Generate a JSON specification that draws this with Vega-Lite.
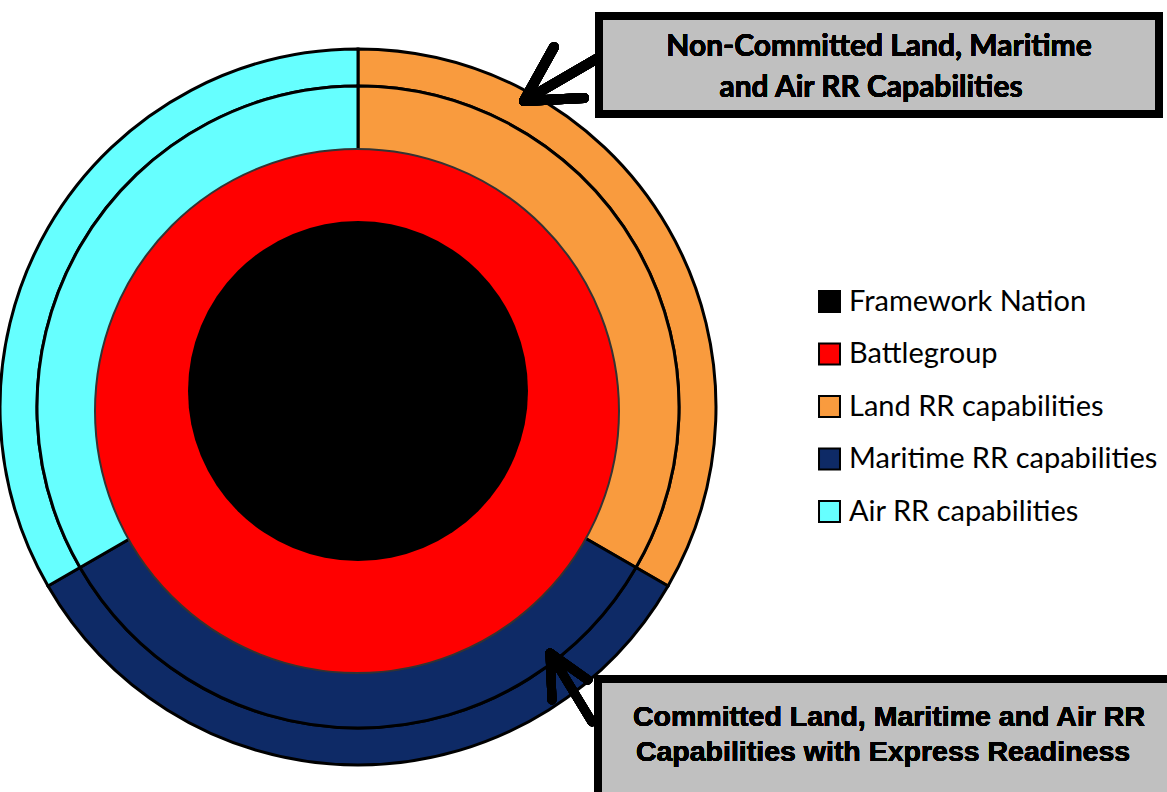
{
  "$schema": "https://vega.github.io/schema/vega-lite/v6.json",
  "width": 1167,
  "height": 792,
  "padding": 0,
  "autosize": "none",
  "background": "white",
  "config": {"view": {"stroke": null}, "axis": {"disable": true}},
  "data": {
    "values": [
      {"ring": "core", "category": "Framework Nation", "value": 1, "seq": 1},
      {"ring": "battlegroup", "category": "Battlegroup", "value": 1, "seq": 1},
      {"ring": "inner", "category": "Land RR capabilities", "value": 1, "seq": 1},
      {"ring": "inner", "category": "Maritime RR capabilities", "value": 1, "seq": 2},
      {"ring": "inner", "category": "Air RR capabilities", "value": 1, "seq": 3},
      {"ring": "outer", "category": "Land RR capabilities", "value": 1, "seq": 1},
      {"ring": "outer", "category": "Maritime RR capabilities", "value": 1, "seq": 2},
      {"ring": "outer", "category": "Air RR capabilities", "value": 1, "seq": 3}
    ]
  },
  "layer": [
    {
      "transform": [{"filter": "datum.ring === 'outer'"}],
      "mark": {"type": "arc", "radius": 358, "radius2": 321, "stroke": "black", "strokeWidth": 3},
      "encoding": {
        "x": {"datum": 358, "type": "quantitative", "scale": {"domain": [0, 1167], "nice": false, "zero": false}, "axis": null},
        "y": {"datum": 407, "type": "quantitative", "scale": {"domain": [0, 792], "nice": false, "zero": false, "reverse": true}, "axis": null},
        "theta": {"field": "value", "type": "quantitative", "stack": true},
        "order": {"field": "seq"},
        "color": {
          "field": "category", "type": "nominal",
          "scale": {
            "domain": ["Framework Nation", "Battlegroup", "Land RR capabilities", "Maritime RR capabilities", "Air RR capabilities"],
            "range": ["#000000", "#FF0000", "#F99B3E", "#0E2A66", "#66FFFF"]
          },
          "legend": {
            "orient": "none", "legendX": 815, "legendY": 287, "title": null,
            "symbolType": "square", "symbolSize": 440, "symbolStrokeColor": "black", "symbolStrokeWidth": 2,
            "symbolOpacity": 1,
            "labelFont": "Lato", "labelFontSize": 29, "labelColor": "black", "labelOffset": 5,
            "rowPadding": 22.5, "labelLimit": 400
          }
        }
      }
    },
    {
      "transform": [{"filter": "datum.ring === 'inner'"}],
      "mark": {"type": "arc", "radius": 321, "radius2": 250, "stroke": "black", "strokeWidth": 3},
      "encoding": {
        "x": {"datum": 358, "type": "quantitative", "axis": null},
        "y": {"datum": 407, "type": "quantitative", "axis": null},
        "theta": {"field": "value", "type": "quantitative", "stack": true},
        "order": {"field": "seq"},
        "color": {"field": "category", "type": "nominal"}
      }
    },
    {
      "transform": [{"filter": "datum.ring === 'battlegroup'"}],
      "mark": {"type": "arc", "radius": 262, "radius2": 0, "theta": 0, "theta2": 6.2832, "stroke": "#333333", "strokeWidth": 2},
      "encoding": {
        "x": {"datum": 357, "type": "quantitative", "axis": null},
        "y": {"datum": 411, "type": "quantitative", "axis": null},
        "color": {"field": "category", "type": "nominal"}
      }
    },
    {
      "transform": [{"filter": "datum.ring === 'core'"}],
      "mark": {"type": "arc", "radius": 170, "radius2": 0, "theta": 0, "theta2": 6.2832},
      "encoding": {
        "x": {"datum": 358, "type": "quantitative", "axis": null},
        "y": {"datum": 391, "type": "quantitative", "axis": null},
        "color": {"field": "category", "type": "nominal"}
      }
    },
    {
      "mark": {"type": "rule", "color": "black", "strokeWidth": 10, "strokeCap": "round"},
      "encoding": {"x": {"datum": 524, "type": "quantitative"}, "y": {"datum": 101, "type": "quantitative"}, "x2": {"datum": 598}, "y2": {"datum": 58}}
    },
    {
      "mark": {"type": "rule", "color": "black", "strokeWidth": 10, "strokeCap": "round"},
      "encoding": {"x": {"datum": 524, "type": "quantitative"}, "y": {"datum": 101, "type": "quantitative"}, "x2": {"datum": 554}, "y2": {"datum": 47}}
    },
    {
      "mark": {"type": "rule", "color": "black", "strokeWidth": 10, "strokeCap": "round"},
      "encoding": {"x": {"datum": 524, "type": "quantitative"}, "y": {"datum": 101, "type": "quantitative"}, "x2": {"datum": 584}, "y2": {"datum": 98}}
    },
    {
      "mark": {"type": "rule", "color": "black", "strokeWidth": 9, "strokeCap": "round"},
      "encoding": {"x": {"datum": 550, "type": "quantitative"}, "y": {"datum": 653, "type": "quantitative"}, "x2": {"datum": 592}, "y2": {"datum": 722}}
    },
    {
      "mark": {"type": "rule", "color": "black", "strokeWidth": 9, "strokeCap": "round"},
      "encoding": {"x": {"datum": 550, "type": "quantitative"}, "y": {"datum": 653, "type": "quantitative"}, "x2": {"datum": 552}, "y2": {"datum": 700}}
    },
    {
      "mark": {"type": "rule", "color": "black", "strokeWidth": 9, "strokeCap": "round"},
      "encoding": {"x": {"datum": 550, "type": "quantitative"}, "y": {"datum": 653, "type": "quantitative"}, "x2": {"datum": 588}, "y2": {"datum": 680}}
    },
    {
      "mark": {"type": "rect", "fill": "#C0C0C0", "stroke": "black", "strokeWidth": 8},
      "encoding": {"x": {"datum": 599, "type": "quantitative"}, "x2": {"datum": 1159}, "y": {"datum": 16, "type": "quantitative"}, "y2": {"datum": 114}}
    },
    {
      "mark": {"type": "rect", "fill": "#C0C0C0", "stroke": "black", "strokeWidth": 8},
      "encoding": {"x": {"datum": 598, "type": "quantitative"}, "x2": {"datum": 1180}, "y": {"datum": 679, "type": "quantitative"}, "y2": {"datum": 800}}
    },
    {
      "mark": {"type": "text", "text": "Non-Committed Land, Maritime", "font": "Lato", "fontWeight": "bold", "fontSize": 30, "align": "center", "baseline": "middle", "color": "black"},
      "encoding": {"x": {"datum": 879, "type": "quantitative"}, "y": {"datum": 47, "type": "quantitative"}}
    },
    {
      "mark": {"type": "text", "text": "and Air RR Capabilities", "font": "Lato", "fontWeight": "bold", "fontSize": 30, "align": "center", "baseline": "middle", "color": "black"},
      "encoding": {"x": {"datum": 871, "type": "quantitative"}, "y": {"datum": 88, "type": "quantitative"}}
    },
    {
      "mark": {"type": "text", "text": "Committed Land, Maritime and Air RR", "font": "Liberation Sans", "fontWeight": "bold", "fontSize": 28.5, "align": "center", "baseline": "middle", "color": "black"},
      "encoding": {"x": {"datum": 889, "type": "quantitative"}, "y": {"datum": 717, "type": "quantitative"}}
    },
    {
      "mark": {"type": "text", "text": "Capabilities with Express Readiness", "font": "Liberation Sans", "fontWeight": "bold", "fontSize": 28.5, "align": "center", "baseline": "middle", "color": "black"},
      "encoding": {"x": {"datum": 883, "type": "quantitative"}, "y": {"datum": 752, "type": "quantitative"}}
    }
  ]
}
